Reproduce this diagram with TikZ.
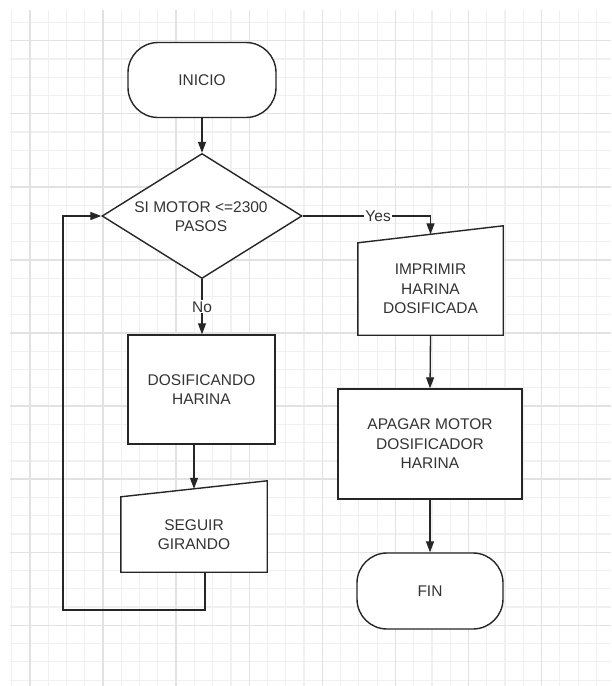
\documentclass[tikz,border=0pt]{standalone}
\usepackage{fontspec}
\setmainfont{Liberation Sans}
\usepackage{tikz}
\usepackage{xcolor}
\usetikzlibrary{arrows.meta,calc,shapes.geometric}
\definecolor{Ink}{HTML}{262626}
\definecolor{TextGrey}{HTML}{333333}
\definecolor{GridMinor}{HTML}{F0F0F0}
\definecolor{GridMajor}{HTML}{E2E2E2}
\tikzset{
    every node/.style={font=\fontsize{15.5}{19.5}\selectfont},
    terminal/.style={
        draw=Ink, fill=white, line width=1.4pt,
        rounded corners=30pt, minimum width=148pt, minimum height=75pt,
        align=center, text=TextGrey
    },
    procbox/.style={
        draw=Ink, fill=white, line width=1.4pt,
        minimum width=#1, align=center, text=TextGrey, inner sep=0pt
    },
    manualbox/.style={
        fill=white, minimum width=146pt, align=center,
        text=TextGrey, inner sep=0pt
    },
    manualedge/.style={
        draw=Ink, line width=1.4pt, line join=miter
    },
    decision/.style={
        diamond, draw=Ink, fill=white, line width=1.4pt,
        minimum width=200pt, minimum height=125pt, inner sep=0pt
    },
    flow/.style={
        -{Triangle[length=11pt,width=8pt]}, line width=1.3pt, color=Ink
    },
    lbl/.style={
        fill=white, inner sep=1pt, text=TextGrey
    },
    gridminor/.style={GridMinor, line width=1.2pt},
    gridmajor/.style={GridMajor, line width=1.4pt},
}
\begin{document}
\begin{tikzpicture}[x=1pt, y=-1pt]
    \useasboundingbox (0,0) rectangle (611,686);
    \fill[white] (0,0) rectangle (611,686);

    % Paper grid
    \begin{scope}
        \clip (10,10) rectangle (611,686);
        \foreach \i in {-1,...,32}
            \draw[gridminor] ({30+18.27*\i},10) -- ({30+18.27*\i},686);
        \foreach \i in {-1,...,35}
            \draw[gridminor] (10,{40.7+18.27*\i}) -- (611,{40.7+18.27*\i});
        \foreach \i in {0,...,8}
            \draw[gridmajor] ({30+73.08*\i},10) -- ({30+73.08*\i},686);
        \foreach \i in {0,...,8}
            \draw[gridmajor] (10,{40.7+73.08*\i}) -- (611,{40.7+73.08*\i});
    \end{scope}

    % Start and decision
    \node[terminal] (start) at (202,80) {INICIO};
    \node[decision] (dec) at (202,216) {};
    \node[align=center, text=TextGrey, inner sep=0pt] (dectxt) at (201,216.5) {SI MOTOR <=2300\\PASOS};

    % No branch
    \node[procbox=147pt, minimum height=109pt] (dos) at (201.5,389.5) {DOSIFICANDO\\HARINA};
    \node[manualbox, minimum height=75pt] (seguir) at (194,534.5) {SEGUIR\\GIRANDO};
    \fill[white] (seguir.north west) -- ($(seguir.north east)+(0,-16)$) -- (seguir.north east) -- cycle;
    \draw[manualedge] (seguir.north west) -- ($(seguir.north east)+(0,-16)$)
        -- (seguir.south east) -- (seguir.south west) -- cycle;

    % Yes branch
    \node[manualbox, minimum height=92pt, minimum width=145pt] (imp) at (430.5,289) {IMPRIMIR\\HARINA\\DOSIFICADA};
    \fill[white] (imp.north west) -- ($(imp.north east)+(0,-17)$) -- (imp.north east) -- cycle;
    \draw[manualedge] (imp.north west) -- ($(imp.north east)+(0,-17)$)
        -- (imp.south east) -- (imp.south west) -- cycle;
    \node[procbox=184pt, minimum height=110pt] (apagar) at (430,444) {APAGAR MOTOR\\DOSIFICADOR\\HARINA};
    \node[terminal, minimum width=146pt, minimum height=76pt] (fin) at (430,591) {FIN};

    % Entry points on the slanted tops
    \coordinate (impin) at ($(imp.north west)!0.5!(imp.north east)+(0,-8.5)$);
    \coordinate (segin) at ($(seguir.north west)!0.5!(seguir.north east)+(0,-8)$);
    \coordinate (loopout) at ($(seguir.south)+(11,0)$);
    \coordinate (loopcorner) at (63,610);

    % Connectors
    \draw[flow] (start) -- (dec);
    \draw[flow] (dec.east) -- node[lbl, pos=0.59]{Yes} (dec.east -| impin) -- (impin);
    \draw[flow] (dec.south) -- node[lbl]{No} (dos.north -| dec.south);
    \draw[flow] (dos.south -| segin) -- (segin);
    \draw[flow] (loopout) |- (loopcorner) |- (dec.west);
    \draw[flow] (imp.south) -- (apagar.north);
    \draw[flow] (apagar.south) -- (fin.north);
\end{tikzpicture}
\end{document}
